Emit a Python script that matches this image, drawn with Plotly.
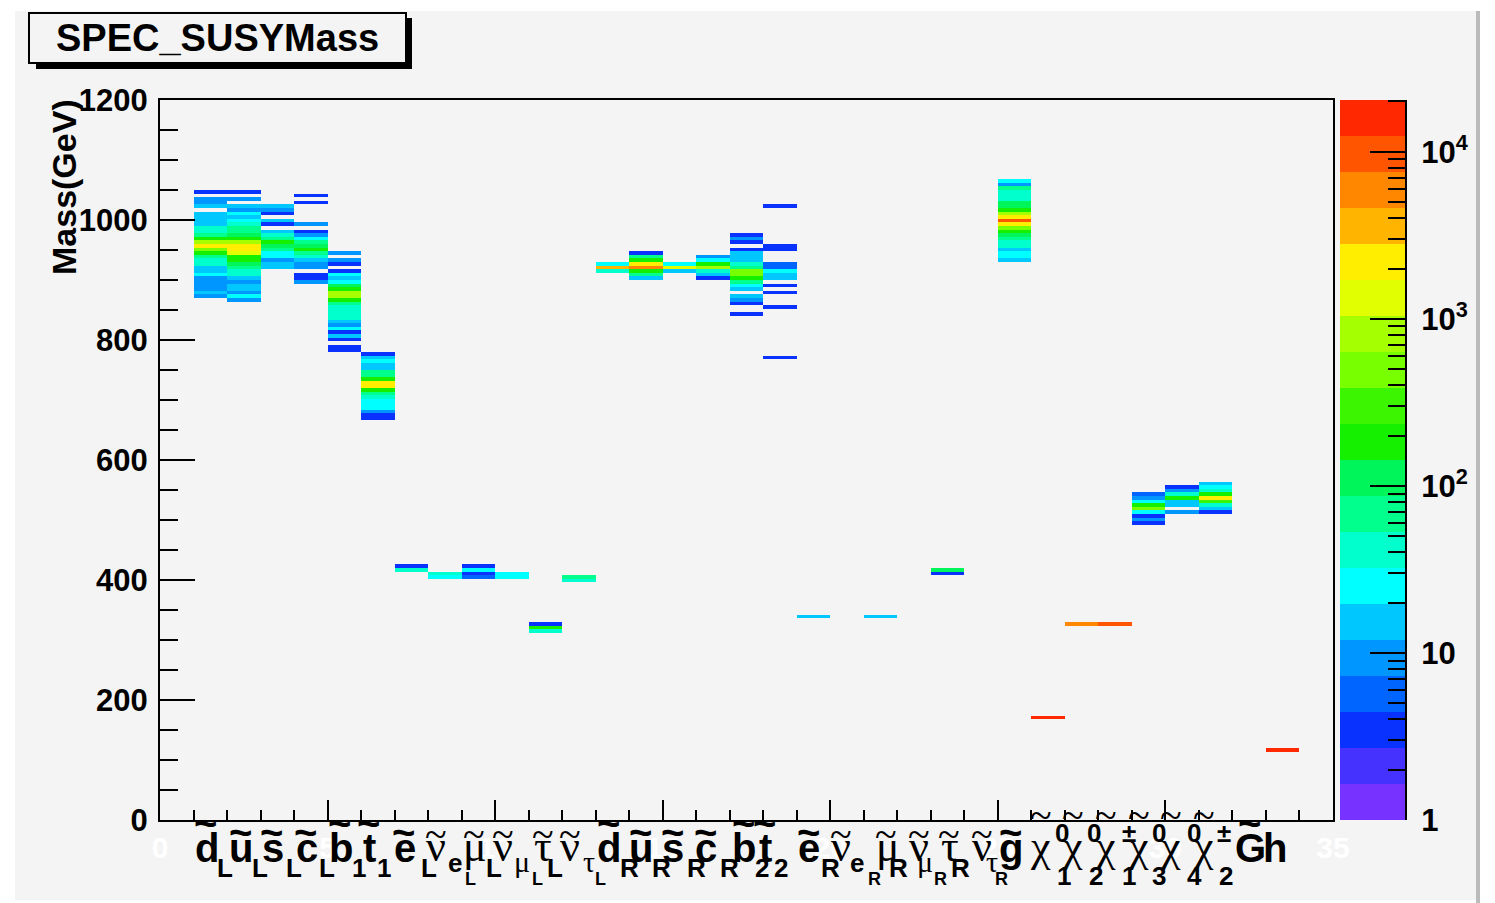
import math
import plotly.graph_objects as go

# ---------------- data (mass-bin low edge in GeV, entries) ----------------
d_L = [(1044, 3), (1032, 9), (1026, 9), (1020, 15), (1008, 15), (1002, 15), (996, 15), (990, 15),
       (984, 40), (978, 40), (972, 65), (966, 180), (960, 800), (954, 2100), (948, 490), (942, 180),
       (936, 65), (930, 40), (924, 40), (918, 15), (912, 15), (906, 25), (900, 9), (894, 9),
       (888, 9), (882, 9), (876, 15), (870, 9)]
u_L = [(1044, 3), (1032, 9), (1020, 15), (1014, 9), (1008, 25), (1002, 15), (996, 25), (990, 40),
       (984, 65), (978, 65), (972, 110), (966, 180), (960, 800), (954, 2100), (948, 2100), (942, 1300),
       (936, 180), (930, 180), (924, 110), (918, 65), (912, 40), (906, 40), (900, 15), (894, 9),
       (888, 15), (882, 15), (876, 9), (870, 25), (864, 9)]
s_L = [(1020, 15), (1014, 9), (1008, 3), (996, 15), (990, 3), (978, 15), (972, 40), (966, 65),
       (960, 180), (954, 110), (948, 65), (942, 25), (936, 25), (930, 9), (924, 15), (918, 15)]
c_L = [(1038, 3), (1026, 3), (990, 9), (978, 3), (972, 9), (966, 25), (960, 65), (954, 110),
       (948, 180), (942, 65), (936, 40), (930, 15), (924, 9), (918, 9), (906, 3), (900, 3), (894, 9)]
b_1 = [(942, 9), (930, 9), (924, 3), (912, 3), (906, 25), (900, 15), (894, 25), (888, 110),
       (882, 180), (876, 800), (870, 800), (864, 180), (858, 65), (852, 40), (846, 40), (840, 40),
       (834, 40), (828, 15), (822, 9), (816, 25), (810, 3), (804, 15), (798, 3), (786, 3), (780, 3)]
t_1 = [(774, 3), (768, 15), (762, 25), (756, 15), (750, 15), (744, 65), (738, 65), (732, 180),
       (726, 2100), (720, 2100), (714, 180), (708, 65), (702, 40), (696, 25), (690, 25), (684, 25),
       (678, 9), (672, 3), (666, 3)]
e_L = [(420, 3), (414, 40)]
nu_eL = [(408, 40), (402, 25)]
mu_L = [(420, 3), (414, 25), (408, 3), (402, 6)]
nu_muL = [(408, 25), (402, 25)]
tau_L = [(324, 3), (318, 180), (312, 40)]
nu_tauL = [(402, 65), (396, 40)]
d_R = [(924, 25), (918, 3500), (912, 40)]
u_R = [(942, 3), (936, 65), (930, 180), (924, 2100), (918, 5700), (912, 180), (906, 65), (900, 15)]
s_R = [(924, 25), (918, 1300), (912, 15)]
c_R = [(936, 9), (930, 25), (924, 180), (918, 800), (912, 40), (906, 15), (900, 3)]
b_2 = [(972, 3), (966, 9), (960, 3), (948, 3), (942, 15), (936, 15), (930, 15), (924, 40),
       (918, 65), (912, 490), (906, 490), (900, 180), (894, 65), (888, 25), (882, 15), (870, 15),
       (864, 9), (858, 3), (840, 3)]
t_2 = [(1020, 3), (954, 3), (948, 3), (924, 6), (918, 6), (912, 25), (906, 15), (900, 15),
       (888, 3), (876, 3), (852, 3), (768, 3)]
e_R = [(336, 15)]
nu_eR = []
mu_R = [(336, 15)]
nu_muR = []
tau_R = [(414, 110), (408, 3)]
nu_tauR = []
gluino = [(1062, 25), (1056, 9), (1050, 65), (1044, 40), (1038, 40), (1032, 40), (1026, 110),
          (1020, 110), (1014, 180), (1008, 800), (1002, 2100), (996, 9400), (990, 2100), (984, 490),
          (978, 180), (972, 110), (966, 65), (960, 40), (954, 40), (948, 15), (942, 25), (936, 25),
          (930, 15)]
chi1_0 = [(168, 15000)]
chi2_0 = [(324, 5700)]
chi1_pm = [(324, 9400)]
chi3_0 = [(540, 6), (534, 9), (528, 25), (522, 180), (516, 490), (510, 25), (504, 3), (498, 9), (492, 3)]
chi4_0 = [(552, 3), (546, 9), (540, 40), (534, 180), (528, 15), (522, 15), (510, 9)]
chi2_pm = [(558, 15), (552, 25), (546, 40), (540, 180), (534, 2100), (528, 300), (522, 40), (516, 15), (510, 3)]
gravitino = []
h0 = [(114, 15000)]

columns = [d_L, u_L, s_L, c_L, b_1, t_1, e_L, nu_eL, mu_L, nu_muL, tau_L, nu_tauL,
           d_R, u_R, s_R, c_R, b_2, t_2, e_R, nu_eR, mu_R, nu_muR, tau_R, nu_tauR,
           gluino, chi1_0, chi2_0, chi1_pm, chi3_0, chi4_0, chi2_pm, gravitino, h0]
FIRST_BIN = 1
N_X, X_MIN, X_MAX = 35, 0, 35
N_Y, Y_MIN, Y_MAX = 200, 0, 1200
Z_MAX_COUNT = 20400
N_CONT = 20
cbar_major = [1, 10, 100, 1000, 10000]
cbar_major_text = ["1", "10", "10<sup>2</sup>", "10<sup>3</sup>", "10<sup>4</sup>"]
x_num_ticks = [0, 5, 10, 15, 20, 25, 30, 35]

# ROOT-like 20-level palette (bottom -> top)
palette = ["#7832ff", "#4632ff", "#0a32ff", "#0064ff", "#0096ff", "#00c8ff", "#00ffff", "#00ffcc",
           "#00ff8c", "#00f55a", "#14f000", "#3cf500", "#78ff00", "#a6ff00", "#e1ff00", "#ffee00",
           "#ffb400", "#ff8700", "#ff5500", "#ff2800"]

# ---------------- geometry (page pixels; the page body has an 8 px margin) ----------------
OFF = 8
PAGE_W, PAGE_H = 1495, 903
W, H = PAGE_W - OFF, PAGE_H - OFF
PX0, PX1, PY0, PY1 = 160, 1333, 100, 820
CB0, CB1 = 1340, 1405
BG = "#f4f4f4"
SANS = "Liberation Sans"
SERIF = "Liberation Serif"


def px(xp):
    return (xp - OFF) / W


def py(yp):
    return 1 - (yp - OFF) / H


# ---------------- build histogram matrix ----------------
dy = (Y_MAX - Y_MIN) / N_Y
dx = (X_MAX - X_MIN) / N_X
z = [[None] * N_X for _ in range(N_Y)]
for i, col in enumerate(columns):
    xb = FIRST_BIN + i
    for m, c in col:
        z[int(round((m - Y_MIN) / dy))][xb] = math.log10(c)
xc = [X_MIN + (i + 0.5) * dx for i in range(N_X)]
yc = [Y_MIN + (j + 0.5) * dy for j in range(N_Y)]

ZMAX = math.log10(Z_MAX_COUNT)
cs = []
for k, c in enumerate(palette):
    cs.append([k / N_CONT, c])
    cs.append([(k + 1) / N_CONT, c])

fig = go.Figure()
fig.add_trace(go.Heatmap(x=xc, y=yc, z=z, colorscale=cs, zmin=0, zmax=ZMAX, showscale=False,
                         hoverinfo="skip", xaxis="x", yaxis="y"))
# palette column
edges = [k * ZMAX / N_CONT for k in range(N_CONT + 1)]
fig.add_trace(go.Heatmap(x=[0, 1], y=edges, z=[[(k + 0.5) * ZMAX / N_CONT] for k in range(N_CONT)],
                         colorscale=cs, zmin=0, zmax=ZMAX, showscale=False, hoverinfo="skip",
                         xaxis="x2", yaxis="y2"))

minor_log = []
for dec in range(0, 5):
    for m in range(2, 10):
        v = math.log10(m * 10 ** dec)
        if v <= ZMAX:
            minor_log.append(v)

tickfont = dict(family=SANS, size=31, color="black", weight="bold")
fig.update_layout(
    template="none",
    width=W, height=H, autosize=False,
    margin=dict(l=0, r=0, t=0, b=0, pad=0, autoexpand=False),
    paper_bgcolor="white", plot_bgcolor=BG, showlegend=False,
    xaxis=dict(domain=[px(PX0), px(PX1)], range=[X_MIN, X_MAX], showline=True, mirror=True,
               linecolor="black", linewidth=2, ticks="inside", ticklen=20, tickwidth=2,
               tickcolor="black", tickvals=x_num_ticks, automargin=False,
               tickfont=dict(family=SANS, size=30, color="white", weight="bold"),
               minor=dict(dtick=1, ticklen=10, tickwidth=2, ticks="inside", tickcolor="black"),
               showgrid=False, zeroline=False, fixedrange=True),
    yaxis=dict(domain=[py(PY1), py(PY0)], range=[Y_MIN, Y_MAX], showline=True, mirror=True,
               linecolor="black", linewidth=2, ticks="inside", ticklen=35, tickwidth=2,
               tickcolor="black", dtick=200, tick0=0, tickfont=tickfont, ticklabelstandoff=4,
               automargin=False,
               minor=dict(dtick=50, tick0=0, ticklen=18, tickwidth=2, ticks="inside", tickcolor="black"),
               showgrid=False, zeroline=False, fixedrange=True),
    xaxis2=dict(domain=[px(CB0), px(CB1)], range=[0, 1], visible=False, anchor="y2",
                fixedrange=True, automargin=False),
    yaxis2=dict(domain=[py(PY1), py(PY0)], range=[0, ZMAX], anchor="x2", side="right",
                showline=True, linecolor="black", linewidth=2, ticks="inside", ticklen=35,
                tickwidth=2, tickcolor="black", tickmode="array", automargin=False,
                tickvals=[math.log10(v) for v in cbar_major], ticktext=cbar_major_text,
                tickfont=tickfont, ticklabelstandoff=8,
                minor=dict(tickmode="array", tickvals=minor_log, ticklen=17, tickwidth=2,
                           ticks="inside", tickcolor="black"),
                showgrid=False, zeroline=False, fixedrange=True),
)

shapes = [
    dict(type="rect", xref="paper", yref="paper", x0=px(15), x1=px(1476), y0=py(900), y1=py(11),
         fillcolor=BG, line=dict(width=0), layer="below"),
    dict(type="rect", xref="paper", yref="paper", x0=px(1476), x1=px(1480), y0=py(903), y1=py(11),
         fillcolor="#bbbbbb", line=dict(width=0), layer="below"),
    dict(type="rect", xref="paper", yref="paper", x0=px(36), x1=px(412), y0=py(69), y1=py(18),
         fillcolor="black", line=dict(width=0)),
    dict(type="rect", xref="paper", yref="paper", x0=px(29), x1=px(406), y0=py(63), y1=py(13),
         fillcolor=BG, line=dict(color="black", width=2)),
]
fig.update_layout(shapes=shapes)

ann = []
ann.append(dict(text="SPEC_SUSYMass", xref="paper", yref="paper", x=px(217), y=py(38),
                xanchor="center", yanchor="middle", showarrow=False,
                font=dict(family=SANS, size=38, color="black", weight="bold")))
ann.append(dict(text="Mass(GeV)", xref="paper", yref="paper", x=px(64), y=py(187), textangle=-90,
                xanchor="center", yanchor="middle", showarrow=False,
                font=dict(family=SANS, size=34, color="black", weight="bold")))

# ---------------- particle labels ----------------
# style: (family, size, weight, baseline px)
STY = {
    "B": (SANS, 40, "bold", 862),
    "G": (SERIF, 44, "normal", 861),
    "s": (SANS, 26, "bold", 877),
    "gs": (SERIF, 30, "normal", 872),
    "es": (SANS, 26, "bold", 872),
    "ss": (SANS, 18, "bold", 885),
    "sup": (SANS, 26, "bold", 842),
    "sub": (SANS, 26, "bold", 885),
}
TILDE_Y = {"tall": 823, "short": 832, "greek": 834, "chi": 815}
WIDTH = {"d": 24, "u": 24, "s": 22, "c": 22, "b": 24, "t": 13, "e": 22, "g": 24, "G": 31, "h": 24,
         "ν": 22, "μ": 23, "τ": 19, "χ": 24}

# (bin, [(text, style, dx_px)], tilde kind)
x_labels = [
    (1, [("d", "B", 0), ("L", "s", 22)], "tall"),
    (2, [("u", "B", 1), ("L", "s", 24)], "short"),
    (3, [("s", "B", 0), ("L", "s", 24)], "short"),
    (4, [("c", "B", 0.5), ("L", "s", 23.5)], "short"),
    (5, [("b", "B", 0), ("1", "s", 23)], "tall"),
    (6, [("t", "B", 0.5), ("1", "s", 14.5)], "tall"),
    (7, [("e", "B", -2), ("L", "s", 25)], "short"),
    (8, [("ν", "G", -3), ("e", "es", 19), ("L", "ss", 35.5)], "greek"),
    (9, [("μ", "G", 0.5), ("L", "s", 23.5)], "greek"),
    (10, [("ν", "G", -3), ("μ", "gs", 18), ("L", "ss", 36)], "greek"),
    (11, [("τ", "G", 4.5), ("L", "s", 17.5)], "greek"),
    (12, [("ν", "G", -3), ("τ", "gs", 20), ("L", "ss", 32)], "greek"),
    (13, [("d", "B", 0.5), ("R", "s", 23.5)], "tall"),
    (14, [("u", "B", -1), ("R", "s", 22)], "short"),
    (15, [("s", "B", -1.5), ("R", "s", 23.5)], "short"),
    (16, [("c", "B", -2), ("R", "s", 23)], "short"),
    (17, [("b", "B", 1.5), ("2", "s", 24)], "tall"),
    (18, [("t", "B", -5), ("2", "s", 10)], "tall"),
    (19, [("e", "B", 0.5), ("R", "s", 23.5)], "short"),
    (20, [("ν", "G", 0), ("e", "es", 19), ("R", "ss", 37)], "greek"),
    (21, [("μ", "G", 11), ("R", "s", 24)], "greek"),
    (22, [("ν", "G", 11), ("μ", "gs", 19), ("R", "ss", 36)], "greek"),
    (23, [("τ", "G", 9), ("R", "s", 19)], "greek"),
    (24, [("ν", "G", 7), ("τ", "gs", 21), ("R", "ss", 30)], "greek"),
    (25, [("g", "B", 0.5)], "short"),
    (26, [("χ", "G", -2), ("0", "sup", 23), ("1", "sub", 25)], "chi"),
    (27, [("χ", "G", -3.5), ("0", "sup", 21.5), ("2", "sub", 23.5)], "chi"),
    (28, [("χ", "G", -4), ("±", "sup", 23), ("1", "sub", 23)], "chi"),
    (29, [("χ", "G", -4.5), ("0", "sup", 19.5), ("3", "sub", 19.5)], "chi"),
    (30, [("χ", "G", -6), ("0", "sup", 21), ("4", "sub", 21)], "chi"),
    (31, [("χ", "G", -6.5), ("±", "sup", 17.5), ("2", "sub", 19)], "chi"),
    (32, [("G", "B", 2)], "tall"),
    (33, [("h", "B", -3.5)], None),
]

BIN_PX = (PX1 - PX0) / (X_MAX - X_MIN)


def mid_from_baseline(base, size, fam):
    k = 0.3465 if fam == SANS else 0.3375
    return base - k * size


for b, parts, tkind in x_labels:
    for j, (txt, st, dxp) in enumerate(parts):
        fam, size, wt, base = STY[st]
        ann.append(dict(text=txt, xref="x", yref="paper", x=b + dxp / BIN_PX,
                        y=py(mid_from_baseline(base, size, fam)), xanchor="left", yanchor="middle",
                        showarrow=False, borderpad=0,
                        font=dict(family=fam, size=size, color="black", weight=wt)))
    if tkind:
        mtxt, mst, mdx = parts[0]
        cx = b + (mdx + WIDTH.get(mtxt, 22) / 2) / BIN_PX
        tfam = SANS if tkind in ("tall", "short") else SERIF
        twt = "bold" if tfam == SANS else "normal"
        ann.append(dict(text="~", xref="x", yref="paper", x=cx, y=py(TILDE_Y[tkind]),
                        xanchor="center", yanchor="middle", showarrow=False, borderpad=0,
                        font=dict(family=tfam, size=40, color="black", weight=twt)))

fig.update_layout(annotations=ann)
fig.write_html("out.html")
